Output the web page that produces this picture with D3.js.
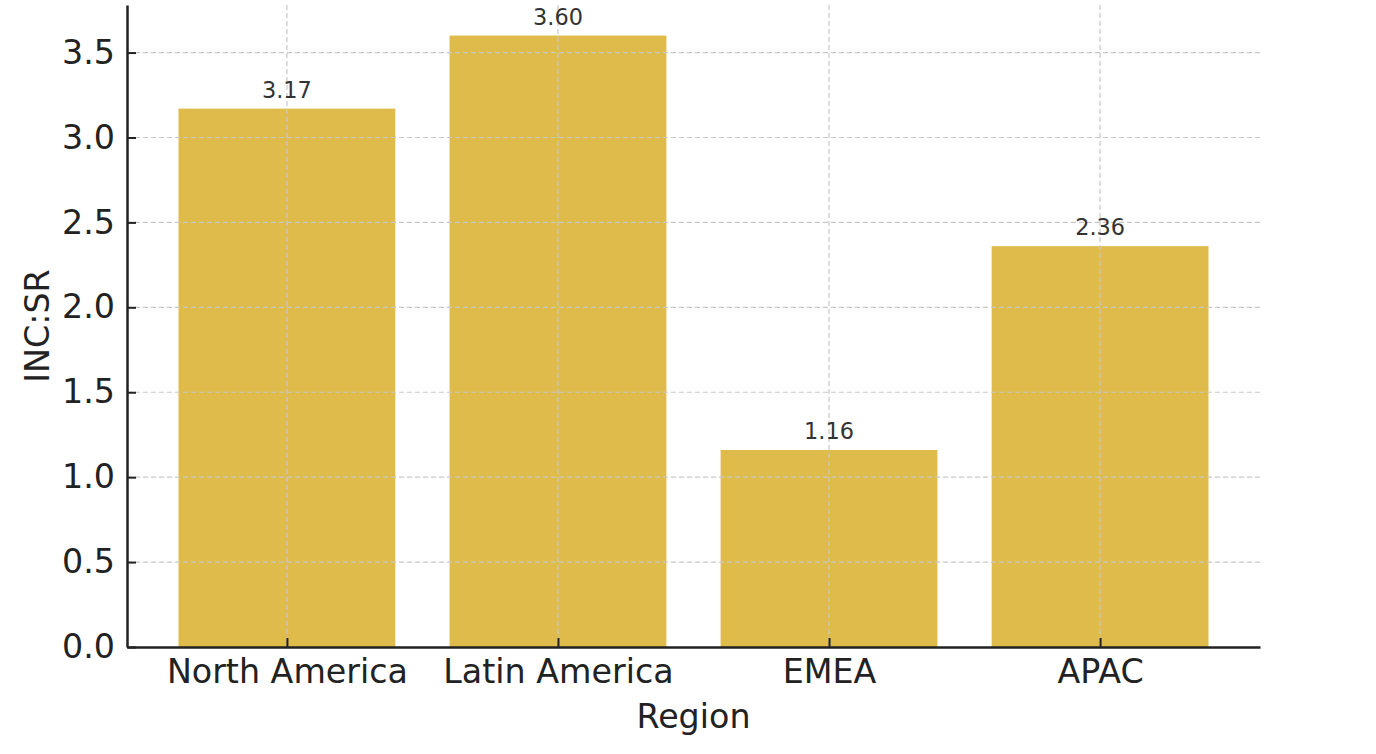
<!DOCTYPE html>
<html>
<head>
<meta charset="utf-8">
<script src="https://cdn.jsdelivr.net/npm/d3@7"></script>
<style>
  body { margin: 0; background: #fff; }
  svg { font-family: "DejaVu Sans", sans-serif; }
</style>
</head>
<body>
<svg id="chart" width="1376" height="754"></svg>
<script>
// 数据
const regions = ["North America", "Latin America", "EMEA", "APAC"];
const ratios = [3.17, 3.60, 1.16, 2.36];
const yTicks = [0, 0.5, 1.0, 1.5, 2.0, 2.5, 3.0, 3.5];

const svg = d3.select("#chart");
const margin = { left: 127, right: 116, top: 5, bottom: 107 };
const width = 1376 - margin.left - margin.right;
const height = 754 - margin.top - margin.bottom;

const g = svg.append("g").attr("transform", `translate(${margin.left},${margin.top})`);

// x 比例尺（与 matplotlib 一致：条宽 0.8，边距 5%）
const x = d3.scaleLinear().domain([-0.59, regions.length - 1 + 0.59]).range([0, width]);
const barW = x(0.8) - x(0);
const y = d3.scaleLinear().domain([0, 3.78]).range([height, 0]);

// 柱子
g.selectAll("rect.bar")
  .data(ratios)
  .enter()
  .append("rect")
  .attr("class", "bar")
  .attr("x", (d, i) => x(i) - barW / 2)
  .attr("width", barW)
  .attr("y", d => y(d))
  .attr("height", d => y(0) - y(d))
  .attr("fill", "#dfbb4c");

// 网格线（在柱子之上）
g.selectAll("line.hgrid")
  .data(yTicks.slice(1))
  .enter()
  .append("line")
  .attr("x1", 0).attr("x2", width)
  .attr("y1", d => y(d)).attr("y2", d => y(d))
  .attr("stroke", "#c8c8c8").attr("stroke-width", 1.2)
  .attr("stroke-dasharray", "5,3");

g.selectAll("line.vgrid")
  .data(regions)
  .enter()
  .append("line")
  .attr("x1", (d, i) => x(i)).attr("x2", (d, i) => x(i))
  .attr("y1", 0).attr("y2", height)
  .attr("stroke", "#c8c8c8").attr("stroke-width", 1.2)
  .attr("stroke-dasharray", "5,3");

// 数值标签
g.selectAll("text.val")
  .data(ratios)
  .enter()
  .append("text")
  .attr("x", (d, i) => x(i))
  .attr("y", d => y(d) - 11)
  .attr("text-anchor", "middle")
  .attr("font-size", 22.4)
  .attr("fill", "#333")
  .text(d => d.toFixed(2));

// y 轴
const yAxis = g.append("g")
  .call(d3.axisLeft(y).tickValues(yTicks).tickSize(-9).tickSizeOuter(0).tickPadding(12)
    .tickFormat(d3.format(".1f")));
yAxis.select(".domain").attr("stroke", "#222").attr("stroke-width", 2.5);
yAxis.selectAll(".tick line").attr("stroke", "#222").attr("stroke-width", 2);
yAxis.selectAll(".tick text").attr("font-size", 33.3).attr("fill", "#222")
  .attr("font-family", "DejaVu Sans");

// x 轴
const xAxis = g.append("g")
  .attr("transform", `translate(0,${height})`)
  .call(d3.axisBottom(x).tickValues(d3.range(regions.length)).tickSize(-9).tickSizeOuter(0).tickPadding(12)
    .tickFormat(i => regions[i]));
xAxis.select(".domain").attr("stroke", "#222").attr("stroke-width", 2.5);
xAxis.selectAll(".tick line").attr("stroke", "#222").attr("stroke-width", 2);
xAxis.selectAll(".tick text").attr("font-size", 33.3).attr("fill", "#222")
  .attr("font-family", "DejaVu Sans");

// 轴标题
svg.append("text")
  .attr("x", margin.left + width / 2)
  .attr("y", 728)
  .attr("text-anchor", "middle")
  .attr("font-size", 33.3)
  .attr("fill", "#222")
  .text("Region");

svg.append("text")
  .attr("transform", `translate(49,${margin.top + height / 2}) rotate(-90)`)
  .attr("text-anchor", "middle")
  .attr("font-size", 33.3)
  .attr("fill", "#222")
  .text("INC:SR");
</script>
</body>
</html>
